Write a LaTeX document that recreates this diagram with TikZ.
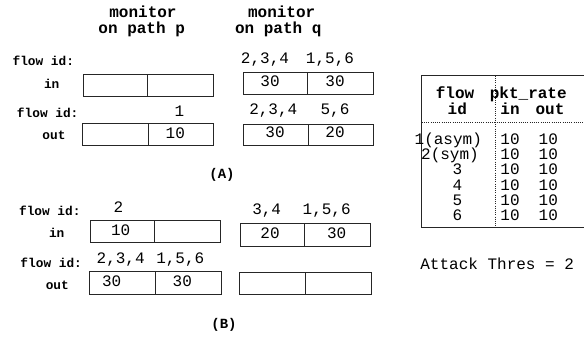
\documentclass[tikz,border=0pt]{standalone}
\usepackage{fontspec}
\setmainfont{Liberation Mono}
\begin{document}
\begin{tikzpicture}[x=1pt,y=-1pt,
  every node/.style={inner sep=0pt,outer sep=0pt,text height=0.6em,text depth=0pt},
  hd/.style={font=\fontsize{16}{18}\selectfont\bfseries},
  lbl/.style={font=\fontsize{12.8}{14}\selectfont\bfseries},
  num/.style={font=\fontsize{16}{18}\selectfont},
  capt/.style={font=\fontsize{14}{16}\selectfont\bfseries},
  cellbox/.style={draw=black!85,line width=0.9pt,inner sep=0pt,text height=,text depth=}
]
\useasboundingbox (0,0) rectangle (584,338);

% headings
\node[hd] (mp1) at (143,14) {monitor};
\node[hd] (mp2) at (141.7,30) {on path p};
\node[hd] (mq1) at (281.7,14) {monitor};
\node[hd] (mq2) at (278.3,30) {on path q};

% (A) labels
\node[lbl] (afid1) at (43.3,62.7) {flow id:};
\node[lbl] (ain) at (51.7,85) {in};
\node[lbl] (afid2) at (47.7,114) {flow id:};
\node[lbl] (aout) at (54,136.7) {out};

% (A) p in
\node[cellbox,minimum width=64.4,minimum height=22] (apin1) at (115.5,85.3) {};
\node[cellbox,minimum width=65.6,minimum height=22] (apin2) at (180.5,85.3) {};
% (A) p out
\node[cellbox,minimum width=66,minimum height=21.7] (apout1) at (115.7,134.2) {};
\node[cellbox,minimum width=65,minimum height=21.7] (apout2) at (181.2,134.2) {};
\node[num] (apoutid) at (179.3,113.3) {1};
\node[num] (apoutv) at (175.3,135) {10};

% (A) q in
\node[cellbox,minimum width=64.4,minimum height=21.6] (aqin1) at (275.5,83.5) {};
\node[cellbox,minimum width=65.6,minimum height=21.6] (aqin2) at (340.5,83.5) {};
\node[num] (aqinid1) at (265,60.7) {2,3,4};
\node[num] (aqinid2) at (330,60.7) {1,5,6};
\node[num] (aqinv1) at (270,83.5) {30};
\node[num] (aqinv2) at (335,83.5) {30};
% (A) q out
\node[cellbox,minimum width=65.4,minimum height=20.7] (aqout1) at (276,134.7) {};
\node[cellbox,minimum width=64.6,minimum height=20.7] (aqout2) at (341,134.7) {};
\node[num] (aqoutid1) at (273.3,111.7) {2,3,4};
\node[num] (aqoutid2) at (335,111.7) {5,6};
\node[num] (aqoutv1) at (275,134.7) {30};
\node[num] (aqoutv2) at (335,134.7) {20};

\node[capt] (capA) at (222,175) {(A)};

% (B) labels
\node[lbl] (bfid1) at (49.8,212.7) {flow id:};
\node[lbl] (bin) at (56.7,234) {in};
\node[lbl] (bfid2) at (51.2,264.3) {flow id:};
\node[lbl] (bout) at (57.3,286) {out};

% (B) p in
\node[cellbox,minimum width=63.6,minimum height=22] (bpin1) at (122.5,231.7) {};
\node[cellbox,minimum width=65.7,minimum height=22] (bpin2) at (187.2,231.7) {};
\node[num] (bpinid) at (118.3,209.3) {2};
\node[num] (bpinv) at (120.7,232.5) {10};
% (B) p out
\node[cellbox,minimum width=66,minimum height=22.3] (bpout1) at (122.3,282.8) {};
\node[cellbox,minimum width=65.7,minimum height=22.3] (bpout2) at (188.2,282.8) {};
\node[num] (bpoutid1) at (120.7,260) {2,3,4};
\node[num] (bpoutid2) at (180.3,260) {1,5,6};
\node[num] (bpoutv1) at (111.7,283.3) {30};
\node[num] (bpoutv2) at (182.3,283.3) {30};

% (B) q in
\node[cellbox,minimum width=63.6,minimum height=22.7] (bqin1) at (272.5,234.7) {};
\node[cellbox,minimum width=66.4,minimum height=22.7] (bqin2) at (337.5,234.7) {};
\node[num] (bqinid1) at (266.7,211.7) {3,4};
\node[num] (bqinid2) at (326.7,211.7) {1,5,6};
\node[num] (bqinv1) at (270,235.7) {20};
\node[num] (bqinv2) at (336.7,235.7) {30};
% (B) q out
\node[cellbox,minimum width=66.4,minimum height=21.6] (bqout1) at (272.5,283.5) {};
\node[cellbox,minimum width=66,minimum height=21.6] (bqout2) at (338.7,283.5) {};

\node[capt] (capB) at (224,325) {(B)};

% table
\draw[black!85,line width=0.9pt] (590,75.7) -- (421.7,75.7) -- (421.7,227.3) -- (590,227.3);
\draw[black!85,line width=0.7pt,dash pattern=on 1pt off 1.2pt] (495,75.7) -- (495,227.3);
\draw[black!85,line width=0.7pt,dash pattern=on 1pt off 1.2pt] (421.7,122.3) -- (590,122.3);
\node[hd] (tflow) at (455,95) {flow};
\node[hd] (tid) at (457.3,111) {id};
\node[hd] (tpkt) at (528.3,95) {pkt\_rate};
\node[hd] (tin) at (510,111) {in};
\node[hd] (tout) at (550,111) {out};
\node[num] (r1) at (448.3,141) {1(asym)};
\node[num] (r2) at (450,156.7) {2(sym)};
\node[num] (r3) at (457.3,171.7) {3};
\node[num] (r4) at (457.3,187) {4};
\node[num] (r5) at (457.3,202.3) {5};
\node[num] (r6) at (457.3,217.7) {6};
\foreach \yy/\nm in {141/1,156.7/2,171.7/3,187/4,202.3/5,217.7/6}{
  \node[num] (ri\nm) at (510,\yy) {10};
  \node[num] (ro\nm) at (548.3,\yy) {10};
}
\node[num] (thres) at (497.2,266.7) {Attack Thres = 2};
\end{tikzpicture}
\end{document}
